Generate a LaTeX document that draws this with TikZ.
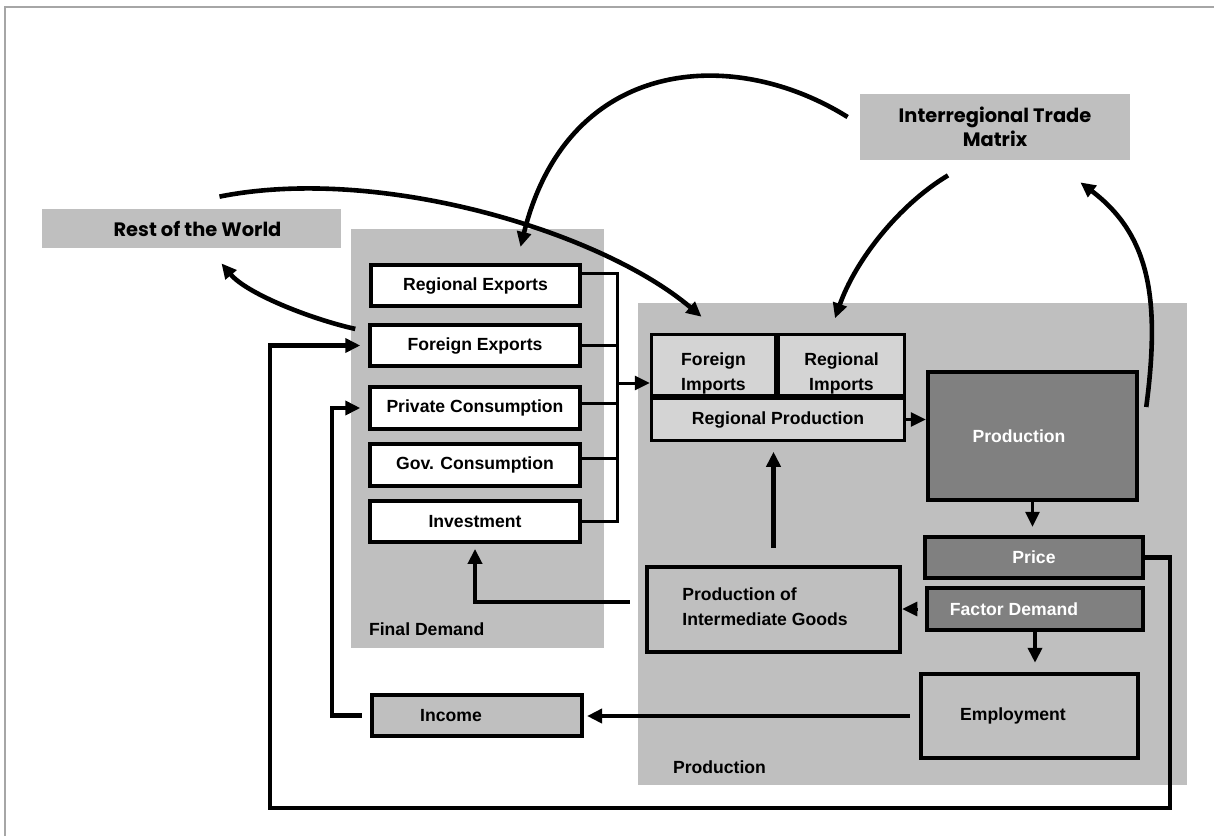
\documentclass[tikz,border=0pt]{standalone}
\usepackage{fontspec}
\setmainfont{Liberation Sans}
\newfontfamily\gothicfont{Poppins}
\usetikzlibrary{arrows.meta}
\definecolor{panelgray}{gray}{0.75}
\definecolor{importgray}{gray}{0.83}
\definecolor{darkbox}{gray}{0.5}

\begin{document}
\begin{tikzpicture}[x=0.5pt,y=-0.5pt,font=\fontsize{8.8}{12.5}\selectfont\bfseries,
  >={Triangle[length=7.5pt,width=7pt]},
  panel/.style={fill=panelgray,inner sep=0pt},
  outside/.style={fill=panelgray,inner sep=0pt,font=\gothicfont\fontsize{9.7}{12}\selectfont\bfseries,align=center},
  demandbox/.style={draw,fill=white,line width=2pt,minimum width=104.75pt,minimum height=20.6pt,inner sep=0pt},
  importbox/.style={draw,fill=importgray,line width=1.75pt,inner sep=0pt,align=center},
  darkbox/.style={draw,fill=darkbox,text=white,line width=2pt,inner sep=0pt},
  plainbox/.style={draw,line width=2pt,inner sep=0pt},
  busline/.style={line width=1.5pt},
  thickline/.style={line width=2.2pt},
  curvy/.style={->,line width=2.3pt}]
\useasboundingbox (0,0) rectangle (1214,836);
\draw[gray!70,line width=0.8pt] (5,836) -- (5,7) -- (1214,7);

% outer boxes
\node[outside,minimum width=149.5pt,minimum height=19.5pt] (rest) at (191.5,228.5) {\hspace*{6pt}Rest of the World};
\node[outside,minimum width=135pt,minimum height=33pt] (trade) at (995,127) {Interregional Trade\\Matrix};

% panels
\node[panel,minimum width=126.5pt,minimum height=209.5pt] (fdpanel) at (477.5,438.5) {};
\node[panel,minimum width=274.5pt,minimum height=241pt] (prodpanel) at (912.5,544) {};
\node[anchor=west] (fdlabel) at (362,629) {Final Demand};
\node[anchor=west] (prodlabel) at (666,767) {Production};

% final demand
\node[demandbox] (rexp) at (475.5,285.5) {Regional Exports};
\node[demandbox] (fexp) at (475,345.5) {Foreign Exports};
\node[demandbox] (pcons) at (475,408) {Private Consumption};
\node[demandbox] (gcons) at (475,465) {Gov. Consumption};
\node[demandbox] (inv) at (475,521.5) {Investment};

% production side
\node[importbox,minimum width=62pt,minimum height=30.5pt,label={[yshift=-4pt,align=center]center:Foreign\\Imports}] (fimp) at (713.5,365) {};
\node[importbox,minimum width=63pt,minimum height=30.5pt,label={[yshift=-4pt,align=center]center:Regional\\Imports}] (rimp) at (841.5,365) {};
\node[importbox,minimum width=126.5pt,minimum height=21pt] (rprod) at (778,419.5) {Regional Production};
\node[darkbox,minimum width=104.75pt,minimum height=64.25pt,label={[xshift=-6.75pt,text=white]center:Production}] (prod) at (1032.5,436) {};
\node[darkbox,minimum width=109.25pt,minimum height=20.75pt] (price) at (1034,557.5) {Price};
\node[darkbox,minimum width=108.25pt,minimum height=21.25pt,label={[xshift=-10.5pt,text=white]center:Factor Demand}] (fdem) at (1035,609) {};
\node[plainbox,minimum width=126.75pt,minimum height=42.75pt,label={[xshift=-4.25pt,yshift=1.5pt,align=left]center:Production of\\Intermediate Goods}] (pig) at (773.5,609.5) {};
\node[plainbox,minimum width=108.75pt,minimum height=42.25pt,label={[xshift=-8.25pt]center:Employment}] (emp) at (1029.5,716) {};
\node[plainbox,fill=panelgray,minimum width=105.25pt,minimum height=20.75pt,label={[xshift=-13pt]center:Income}] (inc) at (477,715.5) {};

% bus to imports
\coordinate (bus) at (617,400);
\coordinate (busout) at (617,383);
\draw[busline] ([yshift=6pt]rexp.east) -| (bus);
\draw[busline] (fexp.east) -| (bus);
\draw[busline] ([yshift=2.5pt]pcons.east) -| (bus);
\draw[busline] ([yshift=3.5pt]gcons.east) -| (bus);
\draw[busline] (inv.east) -| (bus);
\draw[busline,->] (busout) -- (busout -| fimp.west);

% flows inside production
\draw[busline,->] (rprod.east) -- (rprod.east -| prod.west);
\draw[busline,->,shorten >=4pt] (prod.south) -- (prod.south |- price.north);
\draw[thickline,->,shorten >=4.5pt] (fdem.south) -- (fdem.south |- emp.north);
\draw[busline,->,shorten <=4pt] (fdem.west) -- (fdem.west -| pig.east);
\draw[thickline,->,shorten <=8.4pt,shorten >=4.75pt] (pig.north) -- (pig.north |- rprod.south);
\draw[thickline,->,shorten <=7.4pt,shorten >=2.4pt] ([yshift=3.75pt]pig.west) -| (inv.south);
\draw[thickline,->,shorten <=4.4pt,shorten >=1.4pt] (emp.west) -- (emp.west -| inc.east);

% income and price loops
\coordinate (incturn) at (332,715.5);
\coordinate (loopright) at (1170,808);
\coordinate (loopleft) at (270,808);
\draw[thickline,->,shorten <=4pt,shorten >=4pt] (inc.west) -- (incturn) |- (pcons.west);
\draw[thickline,->,shorten >=4pt] (price.east) -| (loopright) -- (loopleft) |- (fexp.west);

% trade curves
\draw[curvy] ([shift={(-13,6)}]fexp.north west) .. controls +(-45,-10) and +(25,30) .. ([shift={(30,15)}]rest.south);
\draw[curvy] ([shift={(28,-12)}]rest.north) .. controls +(160,-32) and +(-100,-85) .. ([shift={(-12,-16)}]fimp.north);
\draw[curvy] ([shift={(-12,-10)}]trade.west) .. controls +(-115,-72) and +(47,-190) .. ([shift={(45,-16)}]rexp.north);
\draw[curvy] ([shift={(-47,15)}]trade.south) .. controls +(-50,30) and +(20,-57) .. ([shift={(-6.5,-14.5)}]rimp.north);
\draw[curvy] ([shift={(7,-29)}]prod.east) .. controls +(14,-107) and +(70,53) .. ([shift={(-50,22)}]trade.south east);
\end{tikzpicture}
\end{document}
